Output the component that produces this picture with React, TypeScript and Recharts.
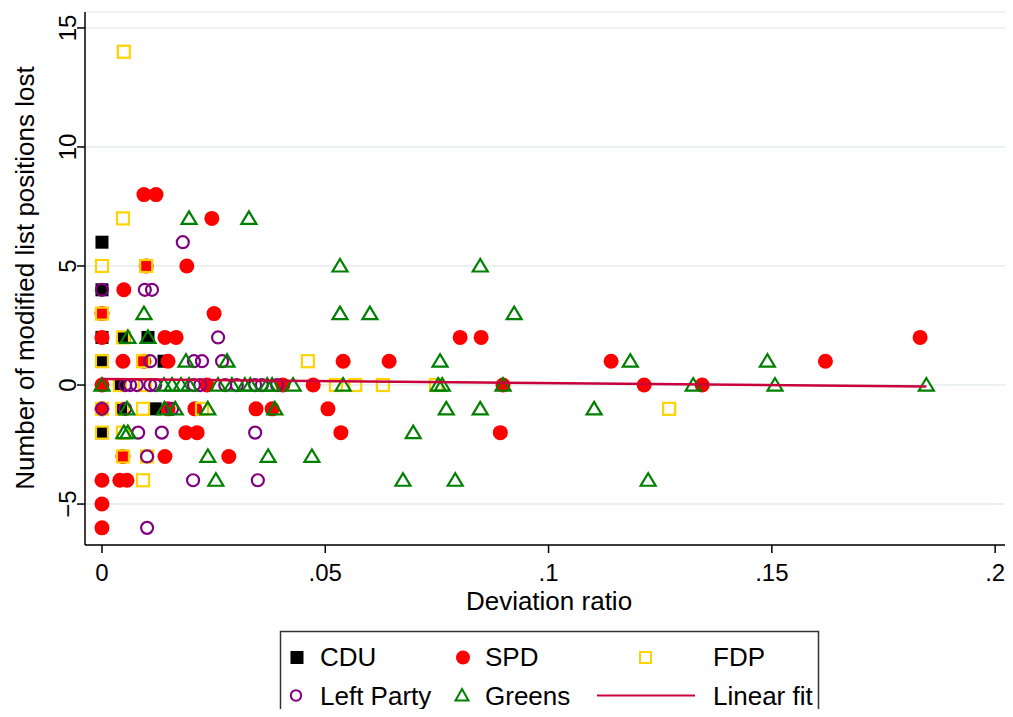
import React from "react";
import {
  ScatterChart,
  Scatter,
  XAxis,
  YAxis,
  CartesianGrid,
} from "recharts";

// [deviation ratio, list positions lost]
const cdu: [number, number][] = [
  [0, 6], [0, 4], [0, 2], [0.0049, 2], [0.0103, 2], [0, 1], [0.0139, 1],
  [0.004, 0], [0.0045, -1], [0.0119, -1], [0, -2],
];

const spd: [number, number][] = [
  [0.0094, 8], [0.0121, 8],
  [0.0246, 7],
  [0.0099, 5], [0.019, 5],
  [0.0049, 4],
  [0, 3], [0.0251, 3],
  [0, 2], [0.0141, 2], [0.0166, 2], [0.0802, 2], [0.0849, 2], [0.1832, 2],
  [0.0047, 1], [0.0094, 1], [0.0148, 1], [0.054, 1], [0.0643, 1], [0.114, 1], [0.162, 1],
  [0, 0], [0.0235, 0], [0.0405, 0], [0.0473, 0], [0.0898, 0], [0.1214, 0], [0.1344, 0],
  [0, -1], [0.0148, -1], [0.0208, -1], [0.0345, -1], [0.0381, -1], [0.0506, -1],
  [0.0188, -2], [0.0213, -2], [0.0535, -2], [0.0892, -2],
  [0.0047, -3], [0.0141, -3], [0.0284, -3],
  [0, -4], [0.004, -4], [0.0056, -4],
  [0, -5],
  [0, -6],
];

const fdp: [number, number][] = [
  [0.0049, 14], [0.0047, 7], [0, 5], [0.0099, 5], [0, 3], [0.0047, 2],
  [0, 1], [0.0092, 1], [0.0461, 1],
  [0.004, 0], [0.0096, 0], [0.0524, 0], [0.0567, 0], [0.0629, 0], [0.0748, 0],
  [0, -1], [0.0045, -1], [0.0092, -1], [0.0224, -1], [0.127, -1],
  [0, -2], [0.0047, -2],
  [0.0047, -3], [0.0101, -3],
  [0.0092, -4],
];

const left: [number, number][] = [
  [0.0181, 6],
  [0, 4], [0.0096, 4], [0.0112, 4],
  [0.026, 2],
  [0.0108, 1], [0.0206, 1], [0.0224, 1], [0.0269, 1],
  [0.0052, 0], [0.0063, 0], [0.0078, 0], [0.0108, 0], [0.0119, 0], [0.0206, 0],
  [0.022, 0], [0.0276, 0], [0.0302, 0], [0.0343, 0], [0.0358, 0], [0.0392, 0],
  [0, -1], [0.0052, -1], [0.0157, -1],
  [0.0081, -2], [0.0134, -2], [0.0343, -2],
  [0.0101, -3],
  [0.0204, -4], [0.0349, -4],
  [0.0101, -6],
];

const greens: [number, number][] = [
  [0.0195, 7], [0.0329, 7],
  [0.0533, 5], [0.0847, 5],
  [0.0094, 3], [0.0533, 3], [0.06, 3], [0.0923, 3],
  [0.0058, 2], [0.0103, 2],
  [0.0188, 1], [0.028, 1], [0.0757, 1], [0.1183, 1], [0.149, 1],
  [0, 0], [0.0139, 0], [0.0157, 0], [0.0177, 0], [0.0195, 0], [0.026, 0],
  [0.0291, 0], [0.032, 0], [0.0332, 0], [0.037, 0], [0.0381, 0], [0.0428, 0],
  [0.054, 0], [0.0753, 0], [0.0762, 0], [0.0898, 0], [0.1324, 0], [0.1507, 0], [0.1846, 0],
  [0.0056, -1], [0.014, -1], [0.0164, -1], [0.0237, -1], [0.0387, -1], [0.0771, -1],
  [0.0847, -1], [0.1102, -1],
  [0.0049, -2], [0.0058, -2], [0.0697, -2],
  [0.0237, -3], [0.0372, -3], [0.047, -3],
  [0.0255, -4], [0.0674, -4], [0.0791, -4], [0.1223, -4],
];

// linear fit end points
const fit: [number, number][] = [
  [0, 0.25],
  [0.1846, -0.06],
];

const xTicks = [0, 0.05, 0.1, 0.15, 0.2];
const yTicks = [-5, 0, 5, 10, 15];

const FONT = '"Liberation Sans", Arial, Helvetica, sans-serif';
const C_CDU = "#000000";
const C_SPD = "#ff0000";
const C_FDP = "#ffd200";
const C_LEFT = "#800080";
const C_GREENS = "#008000";
const C_FIT = "#c8003c";

const pts = (a: [number, number][]) => a.map(([x, y]) => ({ x, y }));

const CduDot = ({ cx, cy }: any) => (
  <rect x={cx - 6.5} y={cy - 6.5} width={13} height={13} fill={C_CDU} />
);
const SpdDot = ({ cx, cy }: any) => <circle cx={cx} cy={cy} r={7.5} fill={C_SPD} />;
const FdpDot = ({ cx, cy }: any) => (
  <rect x={cx - 6} y={cy - 6} width={12} height={12} fill="none" stroke={C_FDP} strokeWidth={2.2} />
);
const LeftDot = ({ cx, cy }: any) => (
  <circle cx={cx} cy={cy} r={6} fill="none" stroke={C_LEFT} strokeWidth={2.2} />
);
const GreensDot = ({ cx, cy }: any) => (
  <polygon
    points={`${cx},${cy - 7} ${cx - 7.5},${cy + 5.5} ${cx + 7.5},${cy + 5.5}`}
    fill="none"
    stroke={C_GREENS}
    strokeWidth={2.2}
    strokeLinejoin="miter"
  />
);

const fmtX = (v: number) => (v === 0 ? "0" : String(v).replace(/^0/, ""));
const fmtY = (v: number) => (v < 0 ? `\u2212${Math.abs(v)}` : String(v));

const XTick = ({ x, y, payload }: any) => (
  <text x={x} y={y + 26} textAnchor="middle" fontFamily={FONT} fontSize={24} fill="#000">
    {fmtX(payload.value)}
  </text>
);

const YTick = ({ y, payload }: any) => (
  <text
    x={76}
    y={y}
    transform={`rotate(-90 76 ${y})`}
    textAnchor="middle"
    fontFamily={FONT}
    fontSize={24}
    fill="#000"
  >
    {fmtY(payload.value)}
  </text>
);

function Legend() {
  const t = { fontFamily: FONT, fontSize: 26, fill: "#000" };
  return (
    <svg
      width={1013}
      height={717}
      style={{ position: "absolute", left: 0, top: 0, pointerEvents: "none" }}
    >
      <rect x={280.5} y={631.5} width={538} height={100} fill="#fff" stroke="#333" strokeWidth={1.5} />
      {/* row 1 */}
      <rect x={290.5} y={651} width={13} height={13} fill={C_CDU} />
      <text x={320} y={666} {...t}>CDU</text>
      <circle cx={463} cy={657.5} r={7} fill={C_SPD} />
      <text x={485} y={666} {...t}>SPD</text>
      <rect x={640} y={652} width={11} height={11} fill="none" stroke={C_FDP} strokeWidth={2} />
      <text x={713} y={666} {...t}>FDP</text>
      {/* row 2 */}
      <circle cx={296} cy={695.5} r={5.2} fill="none" stroke={C_LEFT} strokeWidth={2} />
      <text x={320} y={705} {...t}>Left Party</text>
      <polygon points="462,689 455.5,700.5 468.5,700.5" fill="none" stroke={C_GREENS} strokeWidth={2} />
      <text x={485} y={705} {...t}>Greens</text>
      <line x1={597} y1={695.5} x2={695} y2={695.5} stroke={C_FIT} strokeWidth={2} />
      <text x={713} y={705} {...t}>Linear fit</text>
    </svg>
  );
}

export default function App() {
  return (
    <div
      style={{
        position: "relative",
        width: 1013,
        height: 717,
        margin: -8,
        overflow: "hidden",
        background: "#fff",
      }}
    >
      <ScatterChart
        width={1013}
        height={717}
        margin={{ top: 12, right: 0, bottom: 102, left: 0 }}
      >
        <CartesianGrid vertical={false} stroke="#e4ebee" strokeWidth={1.5} />
        <XAxis
          type="number"
          dataKey="x"
          domain={[-0.0038, 0.204]}
          ticks={xTicks}
          allowDataOverflow
          height={70}
          tickSize={8}
          tick={<XTick />}
          axisLine={{ stroke: "#000", strokeWidth: 1.5 }}
          tickLine={{ stroke: "#000", strokeWidth: 1.5 }}
          label={{
            content: () => (
              <text x={549} y={610} textAnchor="middle" fontFamily={FONT} fontSize={26} fill="#000">
                Deviation ratio
              </text>
            ),
          }}
        />
        <YAxis
          type="number"
          dataKey="y"
          domain={[-6.72, 15.67]}
          ticks={yTicks}
          allowDataOverflow
          width={85}
          tickSize={8}
          tick={<YTick />}
          axisLine={{ stroke: "#000", strokeWidth: 1.5 }}
          tickLine={{ stroke: "#000", strokeWidth: 1.5 }}
          label={{
            content: () => (
              <text
                x={34}
                y={278}
                transform="rotate(-90 34 278)"
                textAnchor="middle"
                fontFamily={FONT}
                fontSize={26}
                fill="#000"
              >
                Number of modified list positions lost
              </text>
            ),
          }}
        />
        <Scatter name="CDU" data={pts(cdu)} shape={CduDot} isAnimationActive={false} />
        <Scatter name="SPD" data={pts(spd)} shape={SpdDot} isAnimationActive={false} />
        <Scatter name="FDP" data={pts(fdp)} shape={FdpDot} isAnimationActive={false} />
        <Scatter name="Left Party" data={pts(left)} shape={LeftDot} isAnimationActive={false} />
        <Scatter name="Greens" data={pts(greens)} shape={GreensDot} isAnimationActive={false} />
        <Scatter
          name="Linear fit"
          data={pts(fit)}
          line={{ stroke: C_FIT, strokeWidth: 2.5 }}
          shape={() => <g />}
          isAnimationActive={false}
        />
      </ScatterChart>
      <Legend />
    </div>
  );
}
